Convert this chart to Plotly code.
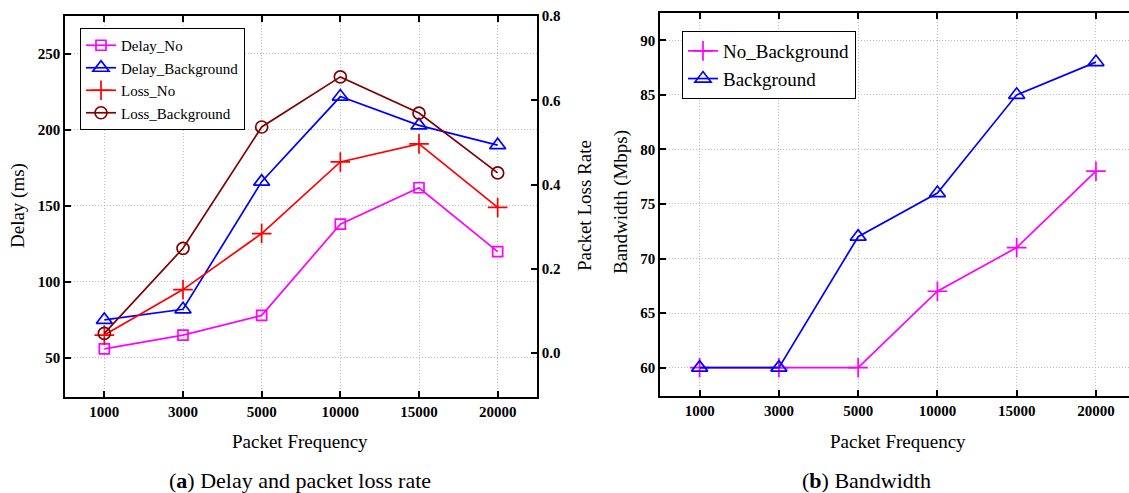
import plotly.graph_objects as go

categories = ["1000", "3000", "5000", "10000", "15000", "20000"]

delay_no = [56, 65, 78, 138, 162, 120]
delay_background = [75, 82, 166, 222, 203, 190]
loss_no = [0.043, 0.151, 0.284, 0.454, 0.497, 0.346]
loss_background = [0.047, 0.249, 0.537, 0.656, 0.570, 0.428]

bw_no_background = [60, 60, 60, 67, 71, 78]
bw_background = [60, 60, 72, 76, 85, 88]

delay_ticks = [50, 100, 150, 200, 250]
loss_ticks = [0.0, 0.2, 0.4, 0.6, 0.8]
bw_ticks = [60, 65, 70, 75, 80, 85, 90]

W, H = 1129, 493
SERIF = "Liberation Serif"

fig = go.Figure()

def line_trace(y, name, color, symbol, size, xaxis, yaxis, legend):
    return go.Scatter(
        x=categories, y=y, name=name, mode="lines+markers",
        line=dict(color=color, width=1.7),
        marker=dict(symbol=symbol, size=size, color=color,
                    line=dict(color=color, width=1.7)),
        xaxis=xaxis, yaxis=yaxis, legend=legend,
    )

fig.add_trace(line_trace(delay_no, "Delay_No", "#FF00FF", "square-open", 10, "x", "y", "legend"))
fig.add_trace(line_trace(delay_background, "Delay_Background", "#0000FF", "triangle-up-open", 14, "x", "y", "legend"))
fig.add_trace(line_trace(loss_no, "Loss_No", "#FF0000", "cross-thin-open", 14, "x", "y2", "legend"))
fig.add_trace(line_trace(loss_background, "Loss_Background", "#7F0000", "circle-open", 12, "x", "y2", "legend"))

fig.add_trace(line_trace(bw_no_background, "No_Background", "#FF00FF", "cross-thin-open", 14, "x2", "y3", "legend2"))
fig.add_trace(line_trace(bw_background, "Background", "#0000FF", "triangle-up-open", 14, "x2", "y3", "legend2"))

tickfont = dict(family=SERIF, size=15, color="black", weight="bold")
grid = dict(showgrid=True, gridcolor="#bdbdbd", gridwidth=1, griddash="1px,2px")
axline = dict(showline=True, linecolor="black", linewidth=1.5, automargin=False,
              ticks="inside", ticklen=6, tickwidth=1.5, tickcolor="black", zeroline=False)

fig.update_layout(
    width=W, height=H,
    margin=dict(l=0, r=0, t=0, b=0, autoexpand=False),
    paper_bgcolor="white", plot_bgcolor="white",
    font=dict(family=SERIF, color="black"),
    xaxis=dict(domain=[65 / W, 537 / W], anchor="y", type="category",
               range=[-0.5, 5.5], mirror="ticks", tickfont=tickfont, **grid, **axline),
    yaxis=dict(domain=[1 - 397 / H, 1 - 16 / H], anchor="x", range=[24.3, 275],
               tickvals=delay_ticks, tickfont=tickfont, **grid, **axline),
    yaxis2=dict(overlaying="y", anchor="x", side="right", range=[-0.104, 0.8005],
                tickvals=loss_ticks, tickformat=".1f", tickfont=tickfont,
                showgrid=False, **axline),
    xaxis2=dict(domain=[660 / W, 1.0], anchor="y3", type="category",
                range=[-0.5, 5.417], mirror="ticks", tickfont=tickfont, **grid, **axline),
    yaxis3=dict(domain=[1 - 396 / H, 1 - 13 / H], anchor="x2", range=[57.4, 92.5],
                tickvals=bw_ticks, tickfont=tickfont, **grid, **axline),
    legend=dict(x=80 / W, y=1 - 28 / H, xanchor="left", yanchor="top",
                bgcolor="white", bordercolor="black", borderwidth=1,
                font=dict(family=SERIF, size=15, color="black"), tracegroupgap=0),
    legend2=dict(x=682 / W, y=1 - 31 / H, xanchor="left", yanchor="top",
                 bgcolor="white", bordercolor="black", borderwidth=1,
                 font=dict(family=SERIF, size=19, color="black"), tracegroupgap=0),
    showlegend=True,
)

def ann(text, x, y, size, angle=0):
    fig.add_annotation(text=text, x=x / W, y=1 - y / H, xref="paper", yref="paper",
                       showarrow=False, textangle=angle, xanchor="center", yanchor="middle",
                       font=dict(family=SERIF, size=size, color="black"))

ann("Delay (ms)", 18, 206, 19, -90)
ann("Packet Loss Rate", 584, 206, 19, -90)
ann("Bandwidth (Mbps)", 621, 202, 19, -90)
ann("Packet Frequency", 300, 441, 19)
ann("Packet Frequency", 898, 441, 19)
ann("(<b>a</b>) Delay and packet loss rate", 300, 480, 22)
ann("(<b>b</b>) Bandwidth", 866, 480, 22)

fig.write_html("out.html", config={"displayModeBar": False},
               post_script="document.body.style.margin='0';document.body.style.overflow='hidden';")
